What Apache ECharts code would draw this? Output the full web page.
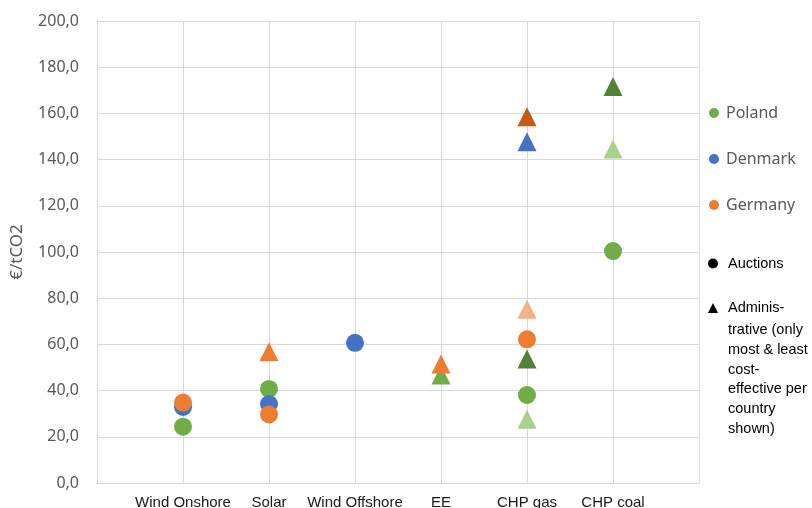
<!DOCTYPE html>
<html>
<head>
<meta charset="utf-8">
<script src="https://cdn.jsdelivr.net/npm/echarts@6/dist/echarts.min.js"></script>
<style>
	html, body { margin: 0; padding: 0; background: #fff; }
	#costChart { width: 812px; height: 508px; }
</style>
</head>
<body>
<div id="costChart"></div>
<script>
//////////// data ////////////
// categories sit on x = 1..6
var categories = ['Wind Onshore', 'Solar', 'Wind Offshore', 'EE', 'CHP gas', 'CHP coal'];

// Poland
var polandAuctions = [[1, 24.4], [2, 40.7], [5, 38.1], [6, 100.4]];
var polandAdmin = [[4, 46.8]];
var polandAdminHigh = [[5, 53.7], [6, 171.6]];
var polandAdminLow = [[5, 27.6], [6, 144.6]];

// Denmark
var denmarkAuctions = [[1, 32.9], [2, 34.2], [3, 60.7]];
var denmarkAdmin = [[5, 147.7]];

// Germany
var germanyAuctions = [[1, 34.8], [2, 29.7], [5, 62.2]];
var germanyAdmin = [[2, 56.8], [4, 51.5]];
var germanyAdminHigh = [[5, 158.6]];
var germanyAdminLow = [[5, 75.2]];

var adminNote = 'trative (only\nmost & least\ncost-\neffective per\ncountry\nshown)';

//////////// chart ////////////
showCostChart();

function pointSeries(name, data, symbol, color) {
	return {
		name: name,
		type: 'scatter',
		data: data,
		symbol: symbol,
		symbolSize: symbol === 'circle' ? 18 : [19, 19],
		itemStyle: { color: color, opacity: 1 },
		emphasis: { disabled: true }
	};
}

// "200,0" style ticks
function commaOne(v) {
	return v.toFixed(1).replace('.', ',');
}

function showCostChart() {
	var chart = echarts.init(document.getElementById('costChart'));
	var arial = "'Liberation Sans', Arial, sans-serif";

	var option = {
		animation: false,
		grid: {
			left: 97,
			right: 113,
			top: 21,
			bottom: 25,
			outerBoundsMode: 'none'
		},
		legend: [
			{
				orient: 'vertical',
				left: 709,
				top: 105,
				padding: 0,
				itemWidth: 10,
				itemHeight: 10,
				itemGap: 30,
				icon: 'circle',
				selectedMode: false,
				data: ['Poland', 'Denmark', 'Germany'],
				textStyle: {
					fontFamily: 'Noto Sans',
					fontSize: 16,
					color: '#595959',
					padding: [0, 0, 0, 2]
				}
			},
			{
				orient: 'vertical',
				left: 708,
				top: 256,
				padding: 0,
				itemWidth: 10,
				itemHeight: 10,
				itemGap: 29.5,
				selectedMode: false,
				data: [
					{ name: 'Auctions', icon: 'circle' },
					{ name: 'Administrative', icon: 'triangle' }
				],
				formatter: function(name) {
					return name === 'Administrative' ? 'Adminis-' : name;
				},
				textStyle: {
					fontFamily: arial,
					fontSize: 14.5,
					color: '#000',
					padding: [0, 0, 0, 5]
				}
			}
		],
		graphic: [
			{
				type: 'text',
				left: 728,
				top: 320,
				style: {
					text: adminNote,
					font: '14.5px ' + arial,
					lineHeight: 19.8,
					fill: '#000'
				}
			}
		],
		xAxis: {
			type: 'value',
			min: 0,
			max: 7,
			interval: 1,
			axisLine: { show: true, lineStyle: { color: '#d9d9d9', width: 1 } },
			axisTick: { show: false },
			splitLine: { show: true, lineStyle: { color: '#d9d9d9', width: 1 } },
			axisLabel: {
				margin: 12,
				showMinLabel: true,
				showMaxLabel: true,
				fontFamily: arial,
				fontSize: 15,
				color: '#1a1a1a',
				formatter: function(v) {
					return categories[v - 1] || '';
				}
			}
		},
		yAxis: {
			type: 'value',
			min: 0,
			max: 200,
			interval: 20,
			name: '€/tCO2',
			nameLocation: 'middle',
			nameRotate: 90,
			nameGap: 71,
			nameMoveOverlap: false,
			nameTextStyle: {
				fontFamily: 'Noto Sans',
				fontSize: 17,
				color: '#595959'
			},
			axisLine: { show: true, lineStyle: { color: '#d9d9d9', width: 1 } },
			axisTick: { show: false },
			splitLine: { show: true, lineStyle: { color: '#d9d9d9', width: 1 } },
			axisLabel: {
				margin: 18,
				fontFamily: 'Noto Sans',
				fontSize: 16,
				color: '#595959',
				formatter: commaOne
			}
		},
		series: [
			pointSeries('Poland', polandAuctions, 'circle', '#70ad47'),
			pointSeries('Poland', polandAdmin, 'triangle', '#70ad47'),
			pointSeries('Poland', polandAdminHigh, 'triangle', '#548235'),
			pointSeries('Poland', polandAdminLow, 'triangle', '#a9d18e'),
			pointSeries('Denmark', denmarkAuctions, 'circle', '#4472c4'),
			pointSeries('Denmark', denmarkAdmin, 'triangle', '#4472c4'),
			pointSeries('Germany', germanyAuctions, 'circle', '#ed7d31'),
			pointSeries('Germany', germanyAdmin, 'triangle', '#ed7d31'),
			pointSeries('Germany', germanyAdminHigh, 'triangle', '#c55a11'),
			pointSeries('Germany', germanyAdminLow, 'triangle', '#f4b183'),
			// legend-only keys
			pointSeries('Auctions', [], 'circle', '#000'),
			pointSeries('Administrative', [], 'triangle', '#000')
		]
	};

	chart.setOption(option);
}
</script>
</body>
</html>
